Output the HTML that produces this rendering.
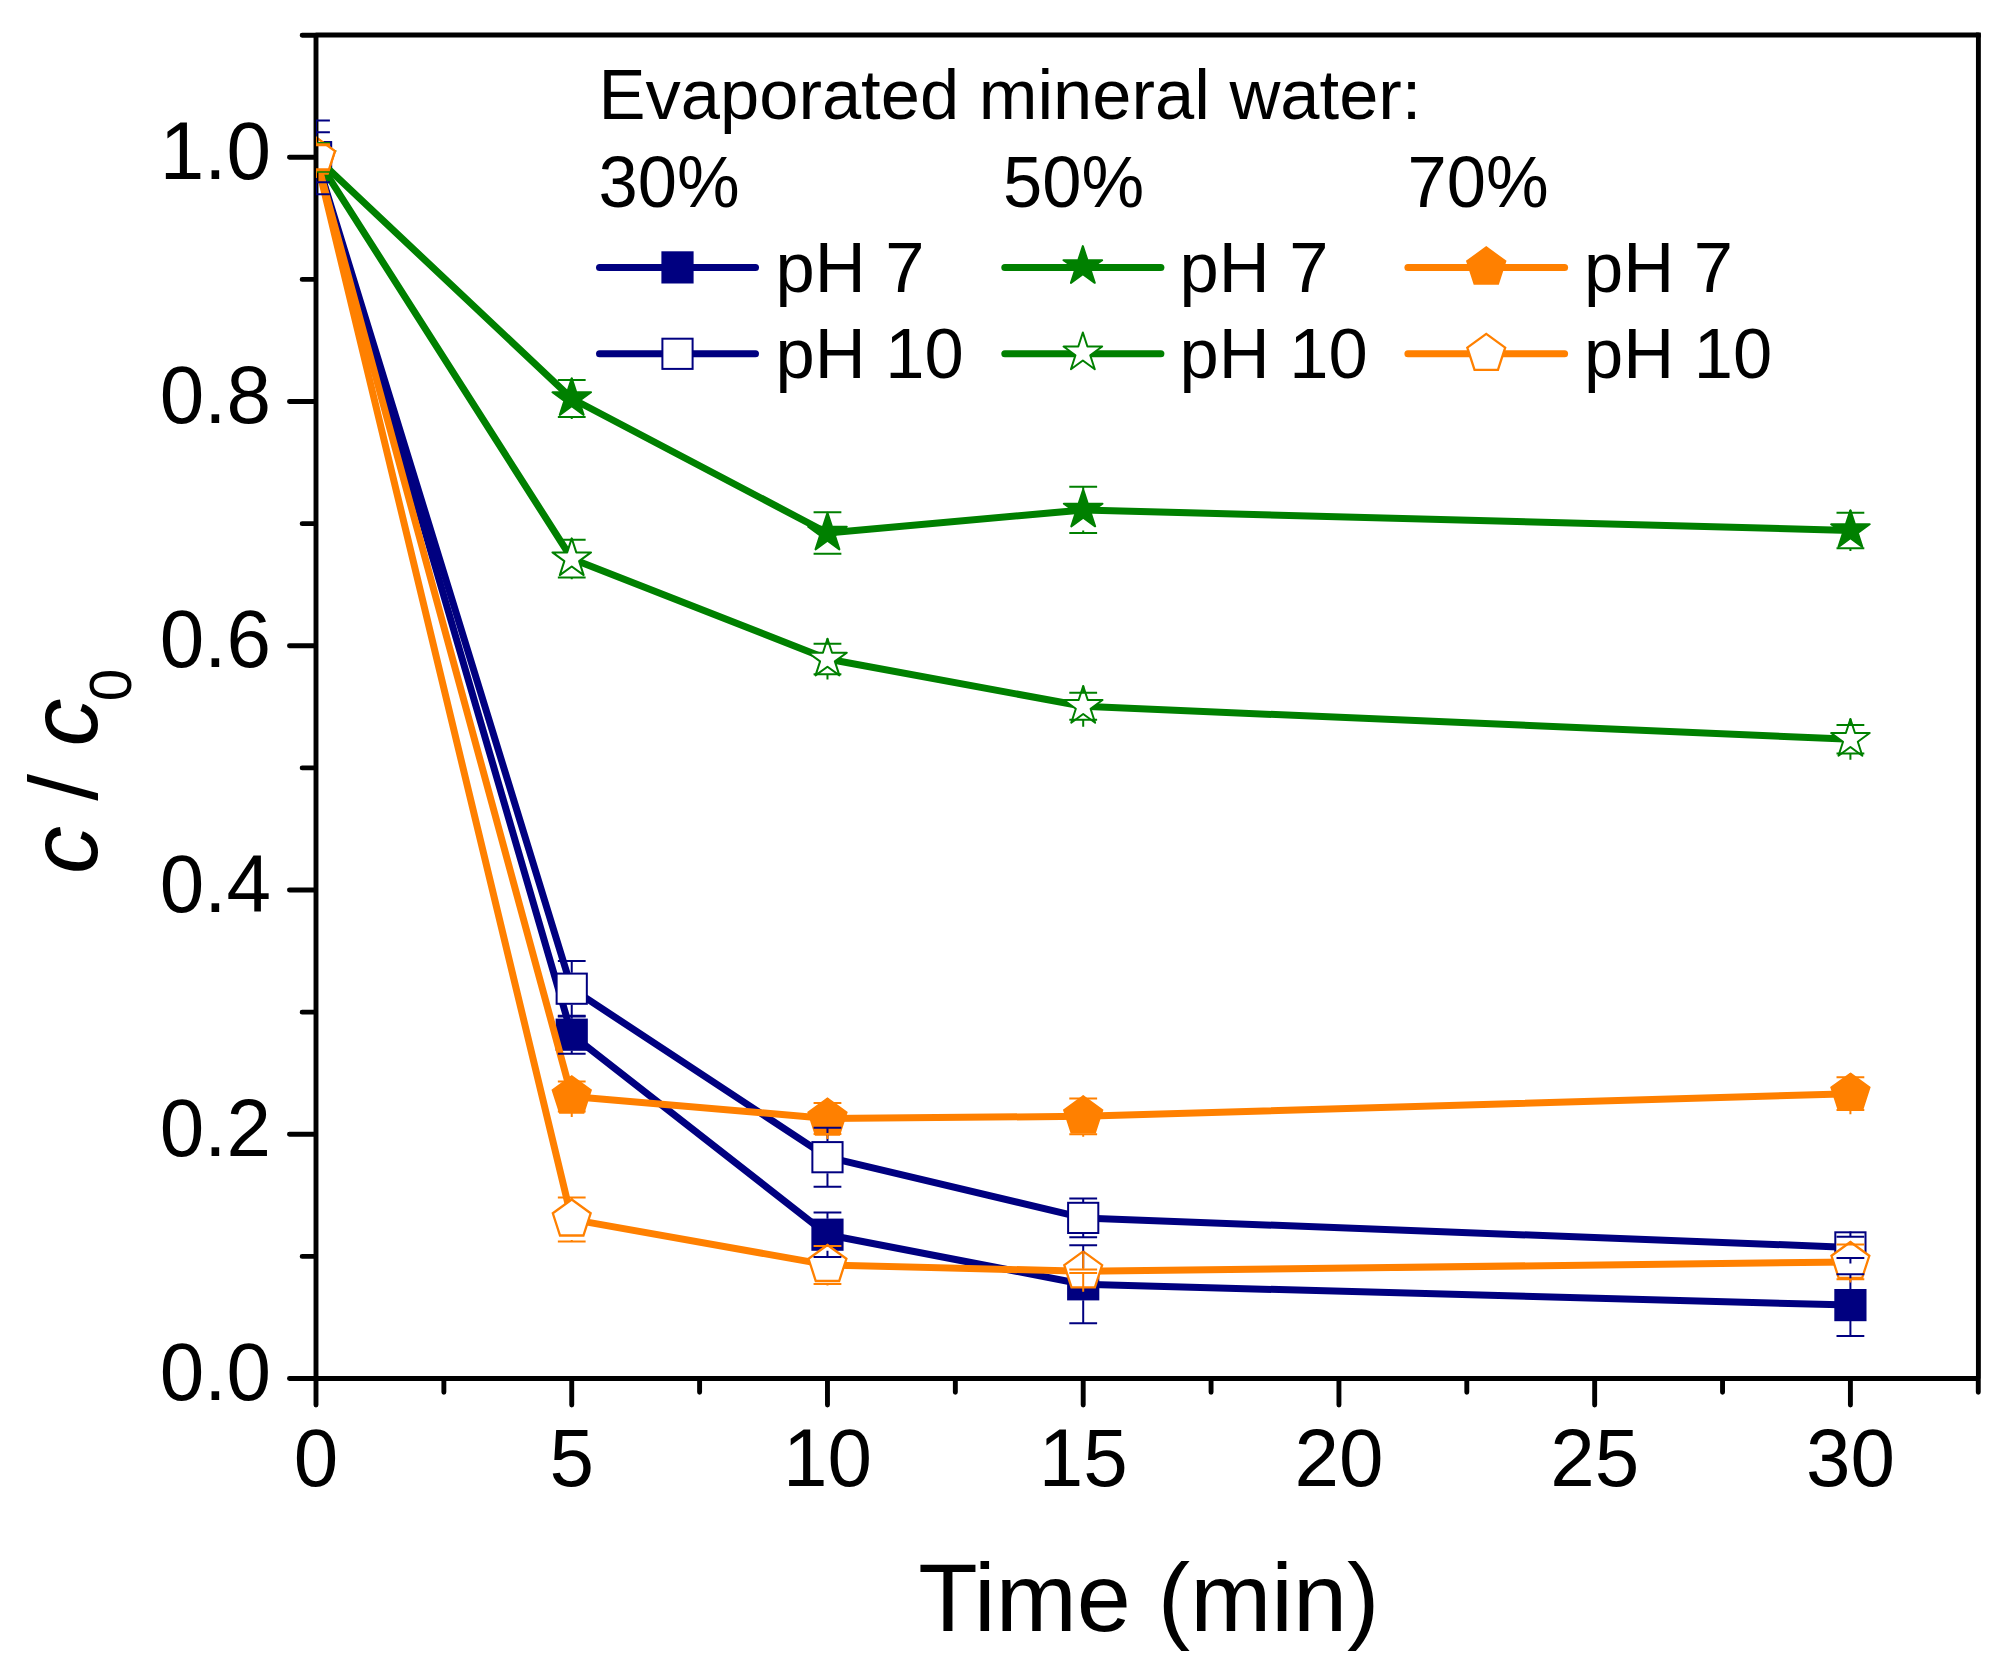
<!DOCTYPE html>
<html lang="en"><head><meta charset="utf-8"><title>c / c0 vs. Time (min)</title>
<style>html,body{margin:0;padding:0;background:#fff}body{width:2013px;height:1668px;overflow:hidden}svg{display:block}text{font-family:"Liberation Sans",Arial,sans-serif;fill:#000}</style>
</head><body>
<svg width="2013" height="1668" viewBox="0 0 2013 1668">
<rect width="2013" height="1668" fill="#fff"/>
<defs><clipPath id="pc"><rect x="316" y="35" width="1662.4" height="1343.5"/></clipPath></defs>
<g clip-path="url(#pc)">
<polyline points="316,157.3 571.74,1034.7 827.47,1234.7 1083.2,1284.3 1850.41,1305.1" fill="none" stroke="#000080" stroke-width="7" stroke-linejoin="round" stroke-linecap="round"/>
<rect x="300.9" y="142.2" width="30.2" height="30.2" fill="#000080" stroke="#000080" stroke-width="2"/>
<rect x="556.63" y="1019.6" width="30.2" height="30.2" fill="#000080" stroke="#000080" stroke-width="2"/>
<rect x="812.37" y="1219.6" width="30.2" height="30.2" fill="#000080" stroke="#000080" stroke-width="2"/>
<rect x="1068.11" y="1269.2" width="30.2" height="30.2" fill="#000080" stroke="#000080" stroke-width="2"/>
<rect x="1835.31" y="1290" width="30.2" height="30.2" fill="#000080" stroke="#000080" stroke-width="2"/>
<polyline points="316,157.3 571.74,988.7 827.47,1157.2 1083.2,1217.9 1850.41,1247.4" fill="none" stroke="#000080" stroke-width="7" stroke-linejoin="round" stroke-linecap="round"/>
<rect x="300.9" y="142.2" width="30.2" height="30.2" fill="#fff" stroke="#000080" stroke-width="2"/>
<rect x="556.63" y="973.6" width="30.2" height="30.2" fill="#fff" stroke="#000080" stroke-width="2"/>
<rect x="812.37" y="1142.1" width="30.2" height="30.2" fill="#fff" stroke="#000080" stroke-width="2"/>
<rect x="1068.11" y="1202.8" width="30.2" height="30.2" fill="#fff" stroke="#000080" stroke-width="2"/>
<rect x="1835.31" y="1232.3" width="30.2" height="30.2" fill="#fff" stroke="#000080" stroke-width="2"/>
<polyline points="316,157.3 571.74,398.5 827.47,533 1083.2,509.9 1850.41,530.5" fill="none" stroke="#008000" stroke-width="7" stroke-linejoin="round" stroke-linecap="round"/>
<polygon points="316,137 320.56,151.03 335.31,151.03 323.38,159.7 327.93,173.72 316,165.05 304.07,173.72 308.62,159.7 296.69,151.03 311.44,151.03" fill="#008000" stroke="#008000" stroke-width="2" stroke-linejoin="round"/>
<polygon points="571.74,378.2 576.29,392.23 591.04,392.23 579.11,400.9 583.67,414.92 571.74,406.25 559.8,414.92 564.36,400.9 552.43,392.23 567.18,392.23" fill="#008000" stroke="#008000" stroke-width="2" stroke-linejoin="round"/>
<polygon points="827.47,512.7 832.03,526.73 846.78,526.73 834.85,535.4 839.4,549.42 827.47,540.75 815.54,549.42 820.09,535.4 808.16,526.73 822.91,526.73" fill="#008000" stroke="#008000" stroke-width="2" stroke-linejoin="round"/>
<polygon points="1083.2,489.6 1087.76,503.63 1102.51,503.63 1090.58,512.3 1095.14,526.32 1083.2,517.65 1071.27,526.32 1075.83,512.3 1063.9,503.63 1078.65,503.63" fill="#008000" stroke="#008000" stroke-width="2" stroke-linejoin="round"/>
<polygon points="1850.41,510.2 1854.97,524.23 1869.72,524.23 1857.79,532.9 1862.34,546.92 1850.41,538.25 1838.48,546.92 1843.03,532.9 1831.1,524.23 1845.85,524.23" fill="#008000" stroke="#008000" stroke-width="2" stroke-linejoin="round"/>
<polyline points="316,157.3 571.74,558.7 827.47,659 1083.2,706.3 1850.41,739.3" fill="none" stroke="#008000" stroke-width="7" stroke-linejoin="round" stroke-linecap="round"/>
<polygon points="316,137 320.56,151.03 335.31,151.03 323.38,159.7 327.93,173.72 316,165.05 304.07,173.72 308.62,159.7 296.69,151.03 311.44,151.03" fill="#fff" stroke="#008000" stroke-width="2" stroke-linejoin="round"/>
<polygon points="571.74,538.4 576.29,552.43 591.04,552.43 579.11,561.1 583.67,575.12 571.74,566.45 559.8,575.12 564.36,561.1 552.43,552.43 567.18,552.43" fill="#fff" stroke="#008000" stroke-width="2" stroke-linejoin="round"/>
<polygon points="827.47,638.7 832.03,652.73 846.78,652.73 834.85,661.4 839.4,675.42 827.47,666.75 815.54,675.42 820.09,661.4 808.16,652.73 822.91,652.73" fill="#fff" stroke="#008000" stroke-width="2" stroke-linejoin="round"/>
<polygon points="1083.2,686 1087.76,700.03 1102.51,700.03 1090.58,708.7 1095.14,722.72 1083.2,714.05 1071.27,722.72 1075.83,708.7 1063.9,700.03 1078.65,700.03" fill="#fff" stroke="#008000" stroke-width="2" stroke-linejoin="round"/>
<polygon points="1850.41,719 1854.97,733.03 1869.72,733.03 1857.79,741.7 1862.34,755.72 1850.41,747.05 1838.48,755.72 1843.03,741.7 1831.1,733.03 1845.85,733.03" fill="#fff" stroke="#008000" stroke-width="2" stroke-linejoin="round"/>
<polyline points="316,157.3 571.74,1096.4 827.47,1118.5 1083.2,1116.3 1850.41,1093.7" fill="none" stroke="#FF8000" stroke-width="7" stroke-linejoin="round" stroke-linecap="round"/>
<polygon points="316,137.4 334.93,151.15 327.7,173.4 304.3,173.4 297.07,151.15" fill="#FF8000" stroke="#FF8000" stroke-width="2.3" stroke-linejoin="miter"/>
<polygon points="571.74,1076.5 590.66,1090.25 583.43,1112.5 560.04,1112.5 552.81,1090.25" fill="#FF8000" stroke="#FF8000" stroke-width="2.3" stroke-linejoin="miter"/>
<polygon points="827.47,1098.6 846.4,1112.35 839.17,1134.6 815.77,1134.6 808.54,1112.35" fill="#FF8000" stroke="#FF8000" stroke-width="2.3" stroke-linejoin="miter"/>
<polygon points="1083.2,1096.4 1102.13,1110.15 1094.9,1132.4 1071.51,1132.4 1064.28,1110.15" fill="#FF8000" stroke="#FF8000" stroke-width="2.3" stroke-linejoin="miter"/>
<polygon points="1850.41,1073.8 1869.34,1087.55 1862.11,1109.8 1838.71,1109.8 1831.48,1087.55" fill="#FF8000" stroke="#FF8000" stroke-width="2.3" stroke-linejoin="miter"/>
<polyline points="316,157.3 571.74,1219.4 827.47,1264.9 1083.2,1271.3 1850.41,1261.9" fill="none" stroke="#FF8000" stroke-width="7" stroke-linejoin="round" stroke-linecap="round"/>
<polygon points="316,137.4 334.93,151.15 327.7,173.4 304.3,173.4 297.07,151.15" fill="#fff" stroke="#FF8000" stroke-width="2.3" stroke-linejoin="miter"/>
<polygon points="571.74,1199.5 590.66,1213.25 583.43,1235.5 560.04,1235.5 552.81,1213.25" fill="#fff" stroke="#FF8000" stroke-width="2.3" stroke-linejoin="miter"/>
<polygon points="827.47,1245 846.4,1258.75 839.17,1281 815.77,1281 808.54,1258.75" fill="#fff" stroke="#FF8000" stroke-width="2.3" stroke-linejoin="miter"/>
<polygon points="1083.2,1251.4 1102.13,1265.15 1094.9,1287.4 1071.51,1287.4 1064.28,1265.15" fill="#fff" stroke="#FF8000" stroke-width="2.3" stroke-linejoin="miter"/>
<polygon points="1850.41,1242 1869.34,1255.75 1862.11,1278 1838.71,1278 1831.48,1255.75" fill="#fff" stroke="#FF8000" stroke-width="2.3" stroke-linejoin="miter"/>
</g>
<path d="M316 1378.5H1978.4M316 35H1978.4M316 35V1378.5M1978.4 35V1378.5M316 1378.5V1405.05M443.87 1378.5V1392.35M571.74 1378.5V1405.05M699.6 1378.5V1392.35M827.47 1378.5V1405.05M955.34 1378.5V1392.35M1083.2 1378.5V1405.05M1211.07 1378.5V1392.35M1338.94 1378.5V1405.05M1466.81 1378.5V1392.35M1594.67 1378.5V1405.05M1722.54 1378.5V1392.35M1850.41 1378.5V1405.05M1978.28 1378.5V1392.35M316 1378.5H289.45M316 1256.38H302.15M316 1134.26H289.45M316 1012.14H302.15M316 890.02H289.45M316 767.9H302.15M316 645.78H289.45M316 523.66H302.15M316 401.54H289.45M316 279.42H302.15M316 157.3H289.45M316 35.18H302.15" fill="none" stroke="#000" stroke-width="4.9" stroke-linecap="round"/>
<rect x="1975.95" y="32.55" width="4.9" height="4.9" fill="#000"/>
<g clip-path="url(#pc)">
<path d="M302.1 120.4H329.9M316 120.4V141.3M302.1 194.2H329.9M316 194.2V173.3M557.84 1015.7H585.63M571.74 1015.7V1018.7M557.84 1053.7H585.63M571.74 1053.7V1050.7M813.57 1212.5H841.37M827.47 1212.5V1218.7M813.57 1256.9H841.37M827.47 1256.9V1250.7M1069.3 1245.3H1097.11M1083.2 1245.3V1268.3M1069.3 1323.3H1097.11M1083.2 1323.3V1300.3M1836.51 1274.3H1864.31M1850.41 1274.3V1289.1M1836.51 1335.9H1864.31M1850.41 1335.9V1321.1" fill="none" stroke="#000080" stroke-width="2" stroke-linecap="butt"/>
<path d="M302.1 132.3H329.9M316 132.3V141.3M302.1 182.3H329.9M316 182.3V173.3M557.84 961H585.63M571.74 961V972.7M557.84 1016.4H585.63M571.74 1016.4V1004.7M813.57 1127.7H841.37M827.47 1127.7V1141.2M813.57 1186.7H841.37M827.47 1186.7V1173.2M1069.3 1198.5H1097.11M1083.2 1198.5V1201.9M1069.3 1237.3H1097.11M1083.2 1237.3V1233.9M1836.51 1236.8H1864.31M1850.41 1236.8V1231.4M1836.51 1258H1864.31M1850.41 1258V1263.4" fill="none" stroke="#000080" stroke-width="2" stroke-linecap="butt"/>
<path d="M302.1 143.2H329.9M316 143.2V136.8M302.1 171.4H329.9M316 171.4V177.8M557.84 380H585.63M571.74 380V378M557.84 417H585.63M571.74 417V419M813.57 512.2H841.37M827.47 512.2V512.5M813.57 553.8H841.37M827.47 553.8V553.5M1069.3 486.7H1097.11M1083.2 486.7V489.4M1069.3 533.1H1097.11M1083.2 533.1V530.4M1836.51 512.8H1864.31M1850.41 512.8V510M1836.51 548.2H1864.31M1850.41 548.2V551" fill="none" stroke="#008000" stroke-width="2" stroke-linecap="butt"/>
<path d="M302.1 143.2H329.9M316 143.2V136.8M302.1 171.4H329.9M316 171.4V177.8M557.84 539.8H585.63M571.74 539.8V538.2M557.84 577.6H585.63M571.74 577.6V579.2M813.57 643.8H841.37M827.47 643.8V638.5M813.57 674.2H841.37M827.47 674.2V679.5M1069.3 692.8H1097.11M1083.2 692.8V685.8M1069.3 719.8H1097.11M1083.2 719.8V726.8M1836.51 725H1864.31M1850.41 725V718.8M1836.51 753.6H1864.31M1850.41 753.6V759.8" fill="none" stroke="#008000" stroke-width="2" stroke-linecap="butt"/>
<path d="M302.1 144.3H329.9M316 144.3V136.8M302.1 170.3H329.9M316 170.3V177.8M557.84 1081.4H585.63M571.74 1081.4V1075.9M557.84 1111.4H585.63M571.74 1111.4V1116.9M813.57 1102.9H841.37M827.47 1102.9V1098M813.57 1134.1H841.37M827.47 1134.1V1139M1069.3 1098.4H1097.11M1083.2 1098.4V1095.8M1069.3 1134.2H1097.11M1083.2 1134.2V1136.8M1836.51 1077.3H1864.31M1850.41 1077.3V1073.2M1836.51 1110.1H1864.31M1850.41 1110.1V1114.2" fill="none" stroke="#FF8000" stroke-width="2" stroke-linecap="butt"/>
<path d="M302.1 145.3H329.9M316 145.3V136.8M302.1 169.3H329.9M316 169.3V177.8M557.84 1197.4H585.63M571.74 1197.4V1198.9M557.84 1241.4H585.63M571.74 1241.4V1239.9M813.57 1245.9H841.37M827.47 1245.9V1244.4M813.57 1283.9H841.37M827.47 1283.9V1285.4M1069.3 1269.6H1097.11M1083.2 1269.6V1250.8M1069.3 1273H1097.11M1083.2 1273V1291.8M1836.51 1244.6H1864.31M1850.41 1244.6V1241.4M1836.51 1279.2H1864.31M1850.41 1279.2V1282.4" fill="none" stroke="#FF8000" stroke-width="2" stroke-linecap="butt"/>
</g>
<g font-size="80">
<text transform="translate(271,1400.2) scale(1,1.03)" text-anchor="end">0.0</text>
<text transform="translate(271,1155.96) scale(1,1.03)" text-anchor="end">0.2</text>
<text transform="translate(271,911.72) scale(1,1.03)" text-anchor="end">0.4</text>
<text transform="translate(271,667.48) scale(1,1.03)" text-anchor="end">0.6</text>
<text transform="translate(271,423.24) scale(1,1.03)" text-anchor="end">0.8</text>
<text transform="translate(271,179) scale(1,1.03)" text-anchor="end">1.0</text>
<text transform="translate(316,1485.5) scale(1,1.03)" text-anchor="middle">0</text>
<text transform="translate(571.74,1485.5) scale(1,1.03)" text-anchor="middle">5</text>
<text transform="translate(827.47,1485.5) scale(1,1.03)" text-anchor="middle">10</text>
<text transform="translate(1083.2,1485.5) scale(1,1.03)" text-anchor="middle">15</text>
<text transform="translate(1338.94,1485.5) scale(1,1.03)" text-anchor="middle">20</text>
<text transform="translate(1594.67,1485.5) scale(1,1.03)" text-anchor="middle">25</text>
<text transform="translate(1850.41,1485.5) scale(1,1.03)" text-anchor="middle">30</text>
</g>
<text x="1148.8" y="1631.2" font-size="97.3" text-anchor="middle">Time (min)</text>
<text transform="translate(97,874) rotate(-90)" font-size="96"><tspan font-style="italic">c</tspan><tspan dx="-1.3"> / </tspan><tspan font-style="italic" dx="0.7">c</tspan><tspan font-size="58.5" dy="34" dx="-2.6">0</tspan></text>
<g font-size="70.5">
<text x="598.5" y="118.6">Evaporated mineral water:</text>
<text transform="translate(598.6,206.7) scale(1,1.03)">30%</text>
<text transform="translate(1003,206.7) scale(1,1.03)">50%</text>
<text transform="translate(1407.6,206.7) scale(1,1.03)">70%</text>
<line x1="599.5" y1="267.4" x2="755.5" y2="267.4" stroke="#000080" stroke-width="7" stroke-linecap="round"/>
<rect x="662.4" y="252.3" width="30.2" height="30.2" fill="#000080" stroke="#000080" stroke-width="2"/>
<text x="775.5" y="292.3">pH 7</text>
<line x1="599.5" y1="353.8" x2="755.5" y2="353.8" stroke="#000080" stroke-width="7" stroke-linecap="round"/>
<rect x="662.4" y="338.7" width="30.2" height="30.2" fill="#fff" stroke="#000080" stroke-width="2"/>
<text x="775.5" y="378.1">pH 10</text>
<line x1="1004.8" y1="267.4" x2="1160.9" y2="267.4" stroke="#008000" stroke-width="7" stroke-linecap="round"/>
<polygon points="1082.85,246.1 1087.41,260.13 1102.16,260.13 1090.23,268.8 1094.78,282.82 1082.85,274.15 1070.92,282.82 1075.47,268.8 1063.54,260.13 1078.29,260.13" fill="#008000" stroke="#008000" stroke-width="2" stroke-linejoin="round"/>
<text x="1179.5" y="292.3">pH 7</text>
<line x1="1004.8" y1="353.8" x2="1160.9" y2="353.8" stroke="#008000" stroke-width="7" stroke-linecap="round"/>
<polygon points="1082.85,332.5 1087.41,346.53 1102.16,346.53 1090.23,355.2 1094.78,369.22 1082.85,360.55 1070.92,369.22 1075.47,355.2 1063.54,346.53 1078.29,346.53" fill="#fff" stroke="#008000" stroke-width="2" stroke-linejoin="round"/>
<text x="1179.5" y="378.1">pH 10</text>
<line x1="1407.9" y1="267.4" x2="1564.6" y2="267.4" stroke="#FF8000" stroke-width="7" stroke-linecap="round"/>
<polygon points="1486.25,247.5 1505.18,261.25 1497.95,283.5 1474.55,283.5 1467.32,261.25" fill="#FF8000" stroke="#FF8000" stroke-width="2.3" stroke-linejoin="miter"/>
<text x="1584" y="292.3">pH 7</text>
<line x1="1407.9" y1="353.8" x2="1564.6" y2="353.8" stroke="#FF8000" stroke-width="7" stroke-linecap="round"/>
<polygon points="1486.25,333.9 1505.18,347.65 1497.95,369.9 1474.55,369.9 1467.32,347.65" fill="#fff" stroke="#FF8000" stroke-width="2.3" stroke-linejoin="miter"/>
<text x="1584" y="378.1">pH 10</text>
</g>
</svg>
</body></html>
